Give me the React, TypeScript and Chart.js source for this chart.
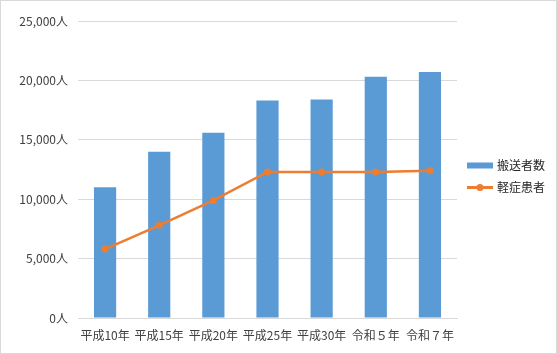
import React, { useEffect, useRef } from "react";
import { Chart, registerables } from "chart.js";

Chart.register(...registerables);

const categories = ["平成10年", "平成15年", "平成20年", "平成25年", "平成30年", "令和５年", "令和７年"];
const transported = [11000, 14000, 15600, 18300, 18400, 20300, 20700];
const mild = [5800, 7800, 9900, 12300, 12300, 12300, 12400];
const seriesNames = ["搬送者数", "軽症患者"];
const yMax = 25000;
const yStep = 5000;

const FONT = '"Noto Sans CJK JP", "Noto Sans", sans-serif';
const TEXT = "#404040";
const BLUE = "#5b9bd5";
const ORANGE = "#ed7d31";

const framePlugin = {
  id: "frame",
  beforeDraw(chart: any) {
    const ctx = chart.ctx;
    ctx.save();
    ctx.fillStyle = "#ffffff";
    ctx.fillRect(0, 0, chart.width, chart.height);
    ctx.strokeStyle = "#d9d9d9";
    ctx.lineWidth = 1;
    ctx.strokeRect(0.5, 0.5, chart.width - 1, chart.height - 1);
    ctx.restore();
  },
  afterDraw(chart: any) {
    const ctx = chart.ctx;
    const area = chart.chartArea;
    const x0 = area.right + 10;
    const mid = (area.top + area.bottom) / 2;
    const ys = [mid - 4, mid + 18];
    ctx.save();
    ctx.font = `12px ${FONT}`;
    ctx.textBaseline = "middle";
    ctx.fillStyle = BLUE;
    ctx.fillRect(x0, ys[0] - 3, 26, 6);
    ctx.fillStyle = "#262626";
    ctx.fillText(seriesNames[0], x0 + 30, ys[0]);
    ctx.strokeStyle = ORANGE;
    ctx.lineWidth = 3;
    ctx.beginPath();
    ctx.moveTo(x0, ys[1]);
    ctx.lineTo(x0 + 26, ys[1]);
    ctx.stroke();
    ctx.fillStyle = ORANGE;
    ctx.beginPath();
    ctx.arc(x0 + 13, ys[1], 3.5, 0, Math.PI * 2);
    ctx.fill();
    ctx.fillStyle = "#262626";
    ctx.fillText(seriesNames[1], x0 + 30, ys[1]);
    ctx.restore();
  },
};

export default function App() {
  const ref = useRef<HTMLCanvasElement>(null);
  useEffect(() => {
    document.body.style.margin = "0";
    const chart = new Chart(ref.current!, {
      data: {
        labels: categories,
        datasets: [
          {
            type: "line",
            label: seriesNames[1],
            data: mild,
            borderColor: ORANGE,
            backgroundColor: ORANGE,
            borderWidth: 2.5,
            pointRadius: 3.5,
            pointBackgroundColor: ORANGE,
            pointBorderWidth: 0,
            tension: 0,
            order: 0,
          },
          {
            type: "bar",
            label: seriesNames[0],
            data: transported,
            backgroundColor: BLUE,
            categoryPercentage: 1,
            barPercentage: 0.41,
            order: 1,
          },
        ],
      } as any,
      options: {
        responsive: false,
        animation: false,
        layout: { padding: { top: 21, right: 100, bottom: 0, left: 0 } },
        plugins: { legend: { display: false }, tooltip: { enabled: false } },
        scales: {
          x: {
            grid: { display: false, drawTicks: false },
            border: { display: true, color: "#d9d9d9" },
            ticks: { color: TEXT, font: { family: FONT, size: 12 }, padding: 10, maxRotation: 0, autoSkip: false },
            afterFit(scale: any) {
              scale.height = 36;
            },
          },
          y: {
            min: 0,
            max: yMax,
            grid: { color: "#d9d9d9", drawTicks: false },
            border: { display: false },
            ticks: {
              stepSize: yStep,
              color: TEXT,
              font: { family: FONT, size: 12 },
              padding: 10,
              callback: (v: any) => Number(v).toLocaleString("en-US") + "人",
            },
            afterFit(scale: any) {
              scale.width = 78;
            },
          },
        },
      },
      plugins: [framePlugin],
    });
    return () => chart.destroy();
  }, []);
  return (
    <div style={{ position: "absolute", left: 0, top: 0, width: 557, height: 354 }}>
      <canvas ref={ref} width={557} height={354} style={{ width: 557, height: 354, display: "block" }} />
    </div>
  );
}
